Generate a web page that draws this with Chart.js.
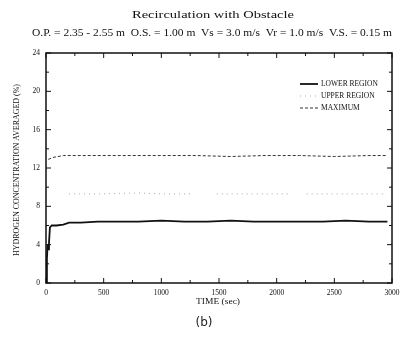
<!DOCTYPE html>
<html>
<head>
<meta charset="utf-8">
<script src="https://cdn.jsdelivr.net/npm/chart.js@4.4.1/dist/chart.umd.min.js"></script>
<style>
  html, body { margin: 0; padding: 0; background: #fff; }
  #wrap { width: 404px; height: 347px; }
</style>
</head>
<body>
<div id="wrap"><canvas id="chart" width="404" height="347"></canvas></div>
<script>
// Data (time in sec, concentration in %)
const lowerTime = [0, 8, 14, 20, 26, 34, 50, 90, 150, 200, 300, 450, 600, 800, 1000, 1200, 1400, 1600, 1800, 2000, 2200, 2400, 2600, 2800, 2960];
const lowerValues = [0, 2.5, 4.0, 3.5, 4.2, 5.8, 6.0, 6.0, 6.1, 6.3, 6.3, 6.4, 6.4, 6.4, 6.5, 6.4, 6.4, 6.5, 6.4, 6.4, 6.4, 6.4, 6.5, 6.4, 6.4];

const upperTime = [200, 500, 800, 1000, 1260, 1370, 1480, 1700, 1900, 2120, 2190, 2260, 2500, 2700, 2940];
const upperValues = [9.3, 9.3, 9.4, 9.3, 9.3, null, 9.3, 9.3, 9.3, 9.3, null, 9.3, 9.3, 9.3, 9.3];

const maxTime = [20, 60, 150, 400, 700, 1000, 1300, 1600, 1900, 2200, 2500, 2800, 2960];
const maxValues = [12.9, 13.1, 13.3, 13.3, 13.3, 13.3, 13.3, 13.2, 13.3, 13.3, 13.2, 13.3, 13.3];

const xTicks = [0, 500, 1000, 1500, 2000, 2500, 3000];
const yTicks = [0, 4, 8, 12, 16, 20, 24];
const seriesNames = ['LOWER REGION', 'UPPER REGION', 'MAXIMUM'];

const titleText = 'Recirculation with Obstacle';
const subtitleText = 'O.P. = 2.35 - 2.55 m  O.S. = 1.00 m  Vs = 3.0 m/s  Vr = 1.0 m/s  V.S. = 0.15 m';
const xTitle = 'TIME (sec)';
const yTitle = 'HYDROGEN CONCENTRATION AVERAGED (%)';
const caption = '(b)';

const serif = '"Liberation Serif", "DejaVu Serif", serif';

function toPoints(xs, ys) {
    return xs.map((x, i) => ({ x: x, y: ys[i] }));
}

// draw text centred at (x, y), squeezed/stretched to a target width
function fitText(ctx, text, x, y, width, size, family, rotate) {
    ctx.save();
    ctx.font = size + 'px ' + family;
    const w = ctx.measureText(text).width;
    ctx.translate(x, y);
    if (rotate) ctx.rotate(-Math.PI / 2);
    ctx.scale(width / w, 1);
    ctx.textAlign = 'center';
    ctx.textBaseline = 'middle';
    ctx.fillText(text, 0, 0);
    ctx.restore();
}

const decorations = {
    id: 'decorations',
    afterDraw(chart) {
        const ctx = chart.ctx;
        const a = chart.chartArea;
        const xs = chart.scales.x;
        const ys = chart.scales.y;
        ctx.save();
        ctx.fillStyle = '#111';
        ctx.strokeStyle = '#111';

        // frame
        ctx.lineWidth = 1.5;
        ctx.strokeRect(a.left, a.top, a.right - a.left, a.bottom - a.top);

        // inward ticks
        ctx.lineWidth = 1;
        ctx.beginPath();
        for (let v = 0; v <= 3000; v += 250) {
            const px = xs.getPixelForValue(v);
            const len = v % 500 === 0 ? 5 : 3;
            ctx.moveTo(px, a.bottom); ctx.lineTo(px, a.bottom - len);
            ctx.moveTo(px, a.top); ctx.lineTo(px, a.top + len);
        }
        for (let v = 0; v <= 24; v += 2) {
            const py = ys.getPixelForValue(v);
            const len = v % 4 === 0 ? 5 : 3;
            ctx.moveTo(a.left, py); ctx.lineTo(a.left + len, py);
            ctx.moveTo(a.right, py); ctx.lineTo(a.right - len, py);
        }
        ctx.stroke();

        // tick labels
        ctx.font = '7.5px ' + serif;
        ctx.textAlign = 'center';
        ctx.textBaseline = 'middle';
        xTicks.forEach(v => ctx.fillText(String(v), xs.getPixelForValue(v), a.bottom + 10));
        ctx.textAlign = 'right';
        yTicks.forEach(v => ctx.fillText(String(v), a.left - 6, ys.getPixelForValue(v)));

        // titles
        fitText(ctx, titleText, 213, 15, 162, 10, serif, false);
        fitText(ctx, subtitleText, 212, 33, 360, 10.5, serif, false);
        fitText(ctx, xTitle, 218, 302, 44, 7.5, serif, false);
        fitText(ctx, yTitle, 17, 170, 172, 7.5, serif, true);

        ctx.fillStyle = '#222';
        ctx.font = '12px "DejaVu Sans", sans-serif';
        ctx.textAlign = 'center';
        ctx.fillText(caption, 204, 323);

        // legend inside the plot
        const lx = 300, ly = [84, 96, 108];
        chart.data.datasets.forEach((ds, i) => {
            ctx.strokeStyle = ds.borderColor;
            ctx.lineWidth = ds.borderWidth;
            ctx.setLineDash(ds.borderDash || []);
            ctx.beginPath();
            ctx.moveTo(lx, ly[i]); ctx.lineTo(lx + 18, ly[i]);
            ctx.stroke();
            ctx.setLineDash([]);
            ctx.fillStyle = '#111';
            ctx.font = '7.5px ' + serif;
            ctx.textAlign = 'left';
            ctx.fillText(ds.label, lx + 21, ly[i]);
        });
        ctx.restore();
    }
};

new Chart(document.getElementById('chart'), {
    type: 'line',
    data: {
        datasets: [{
            label: seriesNames[0],
            data: toPoints(lowerTime, lowerValues),
            borderColor: '#111',
            borderWidth: 1.8,
            pointRadius: 0,
            tension: 0
        }, {
            label: seriesNames[1],
            data: toPoints(upperTime, upperValues),
            borderColor: '#a8a8a8',
            borderWidth: 1,
            borderDash: [1, 4],
            pointRadius: 0,
            spanGaps: false
        }, {
            label: seriesNames[2],
            data: toPoints(maxTime, maxValues),
            borderColor: '#333',
            borderWidth: 1,
            borderDash: [3, 2],
            pointRadius: 0
        }]
    },
    options: {
        responsive: false,
        animation: false,
        layout: { padding: { top: 53, right: 12, left: 0, bottom: 0 } },
        plugins: {
            legend: { display: false },
            tooltip: { enabled: false }
        },
        scales: {
            x: {
                type: 'linear',
                min: 0,
                max: 3000,
                grid: { display: false },
                border: { display: false },
                ticks: { display: false },
                afterFit(scale) { scale.height = 64; }
            },
            y: {
                min: 0,
                max: 24,
                grid: { display: false },
                border: { display: false },
                ticks: { display: false },
                afterFit(scale) { scale.width = 46; }
            }
        }
    },
    plugins: [decorations]
});
</script>
</body>
</html>
